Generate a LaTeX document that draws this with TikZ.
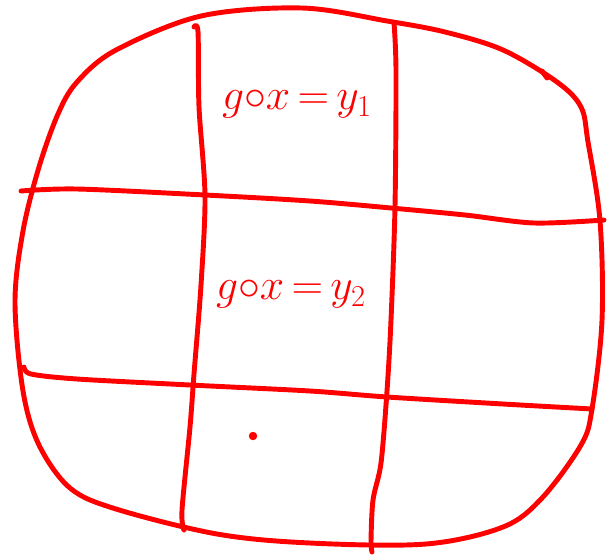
\documentclass[tikz,border=0pt]{standalone}
\usepackage{amsmath}
\usepackage{tikz}
\usetikzlibrary{positioning,calc}

\begin{document}
\begin{tikzpicture}[x=0.02cm, y=-0.02cm, ink/.style={draw=red, line width=2.8pt, line cap=round, line join=round}, lbl/.style={text=red, font=\fontsize{24}{28}\selectfont}]
  \useasboundingbox (0,0) rectangle (607,558);
  % outline
  \draw[ink] plot[smooth cycle, tension=0.55] coordinates {(302,8) (201,16) (116,50) (77,82) (58,114) (39,167) (23,231) (15,302) (23,391) (39,445) (70,488) (116,509) (217,534) (310,543) (426,544) (503,527) (542,498) (581,445) (592,409) (602,320) (600,221) (588,142) (581,107) (557,82) (503,50) (445,32) (387,21)};
  \draw[ink] (542,71) -- (547,78);
  % columns
  \draw[ink] plot[smooth, tension=0.5] coordinates {(194,27) (198,32) (199,107) (205,196) (201,285) (194,374) (190,427) (182,510) (184,530)};
  \draw[ink] plot[smooth, tension=0.5] coordinates {(394,23) (396,71) (395,206) (391,320) (387,391) (381,463) (373,500) (371,541) (372,552)};
  % rows
  \draw[ink] plot[smooth, tension=0.5] coordinates {(21,191) (77,189) (205,195) (310,201) (391,208) (465,215) (534,223) (604,220)};
  \draw[ink] plot[smooth, tension=0.5] coordinates {(24,367) (31,374) (77,379) (190,385) (310,391) (387,397) (503,404) (592,409)};
  % labels
  \node[lbl] (first) at (297,104) {$g{\circ}x\,{=}\,y_1$};
  \node[lbl] (second) at (291,294) {$g{\circ}x\,{=}\,y_2$};
  \fill[red] (253,436) circle (2.4pt);
\end{tikzpicture}
\end{document}
